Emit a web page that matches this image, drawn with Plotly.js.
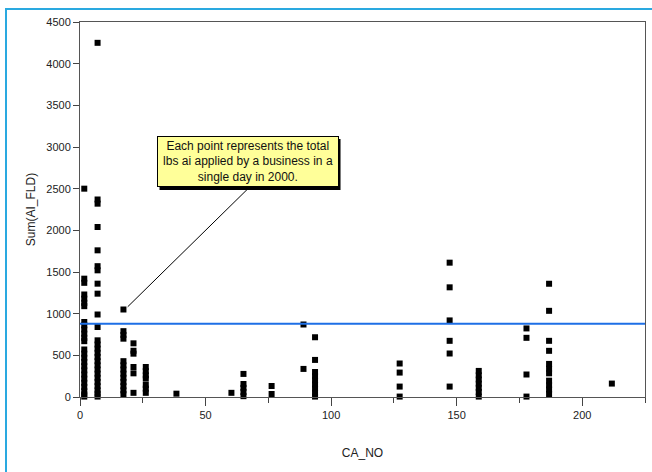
<!DOCTYPE html>
<html>
<head>
<meta charset="utf-8">
<script src="https://cdn.plot.ly/plotly-3.0.1.min.js"></script>
<style>
  html, body { margin: 0; padding: 0; background: #ffffff; }
  #chart { width: 652px; height: 472px; position: absolute; left: 0; top: 0; }
  #frame { position: absolute; left: 5px; top: 8px; width: 700px; height: 500px;
           border-top: 2px solid #2aa9e0; border-left: 2px solid #2aa9e0; pointer-events: none; }
</style>
</head>
<body>
<div id="chart"></div>
<div id="frame"></div>
<script>
// CA_NO (x) and Sum(AI_FLD) (y) values, grouped by CA_NO
const caNo = [
  1.7, 1.7, 1.7, 1.7, 1.7, 1.7, 1.7, 1.7, 1.7, 1.7, 1.7, 1.7, 1.7, 1.7, 1.7, 1.7, 1.7, 1.7, 1.7, 1.7, 1.7, 1.7, 1.7, 1.7, 1.7, 1.7,
  7, 7, 7, 7, 7, 7, 7, 7, 7, 7, 7, 7, 7, 7, 7, 7, 7, 7, 7, 7, 7, 7, 7, 7, 7, 7,
  17.3, 17.3, 17.3, 17.3, 17.3, 17.3, 17.3, 17.3, 17.3, 17.3, 17.3, 17.3, 17.3,
  21.3, 21.3, 21.3, 21.3, 21.3, 21.3,
  26.2, 26.2, 26.2, 26.2, 26.2, 26.2, 26.2,
  38.4,
  60.3,
  65.1, 65.1, 65.1, 65.1, 65.1,
  76.3, 76.3,
  89, 89,
  93.6, 93.6, 93.6, 93.6, 93.6, 93.6, 93.6, 93.6, 93.6,
  127.3, 127.3, 127.3, 127.3,
  147.2, 147.2, 147.2, 147.2, 147.2, 147.2,
  158.8, 158.8, 158.8, 158.8, 158.8, 158.8, 158.8,
  177.8, 177.8, 177.8, 177.8,
  186.8, 186.8, 186.8, 186.8, 186.8, 186.8, 186.8, 186.8, 186.8, 186.8, 186.8,
  211.8
];
const sumAiFld = [
  2500, 1420, 1370, 1230, 1180, 1130, 1090, 900, 860, 810, 760, 710, 670, 570, 520, 470, 420, 370, 320, 270, 220, 170, 120, 70, 30, 5,
  4250, 2370, 2320, 2040, 1760, 1570, 1520, 1360, 1240, 990, 840, 680, 630, 580, 530, 480, 430, 380, 330, 280, 230, 180, 130, 80, 40, 5,
  1050, 790, 745, 700, 430, 380, 330, 280, 230, 180, 130, 80, 35,
  644, 555, 520, 360, 284, 50,
  360, 310, 260, 220, 144, 100, 50,
  40,
  50,
  277, 156, 110, 60, 10,
  132, 36,
  870, 337,
  717, 445, 300, 250, 200, 150, 100, 50, 5,
  402, 293, 125, 5,
  1612, 1316, 919, 674, 522, 125,
  313, 260, 210, 160, 110, 60, 5,
  823, 710, 270, 5,
  1359, 1034, 674, 554, 397, 340, 284, 196, 140, 90, 36,
  161
];
const refLineValue = 880;
const xTickVals = [0, 50, 100, 150, 200];
const xTickText = ['0', '50', '100', '150', '200'];
const yTickVals = [0, 500, 1000, 1500, 2000, 2500, 3000, 3500, 4000, 4500];
const yTickText = ['0', '500', '1000', '1500', '2000', '2500', '3000', '3500', '4000', '4500'];
const noteText = 'Each point represents the total<br>lbs ai applied by a business in a<br>single day in 2000.';

const FONT = 'Liberation Sans, Arial, sans-serif';
const NOTE_X = 0.2965, NOTE_Y = 0.627;

const trace = {
  type: 'scatter',
  mode: 'markers',
  x: caNo,
  y: sumAiFld,
  marker: { symbol: 'square', size: 6, color: '#000000', line: { width: 0 } },
  hoverinfo: 'x+y',
  cliponaxis: false
};

const layout = {
  width: 652,
  height: 472,
  margin: { l: 80, r: 7, t: 22, b: 75 },
  paper_bgcolor: 'rgba(0,0,0,0)',
  plot_bgcolor: '#ffffff',
  showlegend: false,
  font: { family: FONT, size: 11, color: '#222222' },
  xaxis: {
    range: [0, 225],
    tickmode: 'array',
    tickvals: xTickVals,
    ticktext: xTickText,
    ticks: 'outside',
    ticklen: 8,
    tickcolor: '#444444',
    minor: { dtick: 25, tick0: 0, ticks: 'outside', ticklen: 5, tickcolor: '#444444', showgrid: false },
    showgrid: false,
    zeroline: false,
    showline: true,
    linecolor: '#555555',
    linewidth: 1,
    mirror: true,
    tickfont: { family: FONT, size: 11, color: '#222222' },
    title: { text: 'CA_NO', font: { family: FONT, size: 12, color: '#222222' }, standoff: 28 }
  },
  yaxis: {
    range: [0, 4500],
    tickmode: 'array',
    tickvals: yTickVals,
    ticktext: yTickText,
    ticks: 'outside',
    ticklen: 6,
    tickcolor: '#444444',
    showgrid: false,
    zeroline: false,
    showline: true,
    linecolor: '#555555',
    linewidth: 1,
    mirror: true,
    tickfont: { family: FONT, size: 11, color: '#222222' },
    title: { text: 'Sum(AI_FLD)', font: { family: FONT, size: 12, color: '#222222' }, standoff: 8 }
  },
  shapes: [
    {
      type: 'line', xref: 'paper', yref: 'y',
      x0: 0, x1: 1, y0: refLineValue, y1: refLineValue,
      line: { color: '#1e6fe6', width: 2 }
    },
    {
      type: 'line', xref: 'x', yref: 'y',
      x0: 19, y0: 1083, x1: 66.7, y1: 2494,
      line: { color: '#000000', width: 1 }
    },
    {
      // drop shadow of the note box
      type: 'rect', layer: 'above',
      xref: 'paper', yref: 'paper',
      xsizemode: 'pixel', ysizemode: 'pixel',
      xanchor: NOTE_X, yanchor: NOTE_Y,
      x0: -88, x1: 93, y0: -28, y1: 23,
      fillcolor: '#000000', line: { width: 0 }
    }
  ],
  annotations: [
    {
      xref: 'paper', yref: 'paper', x: NOTE_X, y: NOTE_Y,
      xanchor: 'center', yanchor: 'middle',
      text: noteText, showarrow: false,
      width: 178, height: 47,
      font: { family: FONT, size: 12, color: '#111111' },
      bgcolor: '#ffff99', bordercolor: '#000000', borderwidth: 1, borderpad: 1
    }
  ]
};

Plotly.newPlot('chart', [trace], layout, { displayModeBar: false, staticPlot: true });
</script>
</body>
</html>
